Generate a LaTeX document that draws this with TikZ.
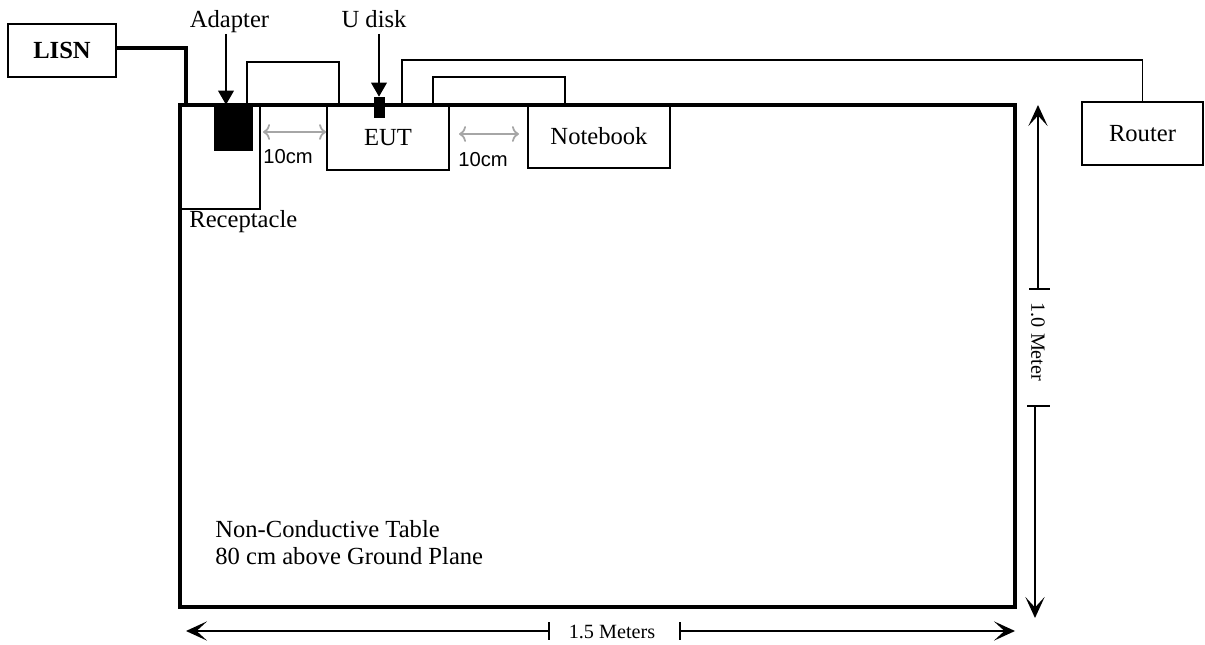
\documentclass[tikz,border=0pt]{standalone}
\usepackage{fontspec}
\setmainfont{Liberation Serif}
\setsansfont{Liberation Sans}
\usepackage{tikz}
\usetikzlibrary{arrows.meta,positioning}

\tikzset{
	box/.style={draw,line width=1pt,inner sep=0pt,align=center},
	blk/.style={draw,fill=black,inner sep=0pt},
	cable/.style={line width=0.8pt},
	powercable/.style={line width=1.9pt},
	pointer/.style={line width=0.8pt,-{Triangle[length=8pt,width=9pt]}},
	gap/.style={gray!70,line width=1pt,{To[length=4pt,width=9pt]}-{To[length=4pt,width=9pt]}},
	dimarrow/.style={line width=0.9pt,-{Stealth[length=12pt,width=11pt,inset=6pt]}},
	tick/.style={line width=0.9pt},
	label/.style={inner sep=0pt,font=\fontsize{14}{14.5}\selectfont},
	cmtext/.style={inner sep=0pt,font=\sffamily\fontsize{11.5}{12}\selectfont}
}

\begin{document}
\begin{tikzpicture}[x=0.02cm,y=-0.02cm,font=\fontsize{14}{14.5}\selectfont]
	\useasboundingbox (0,0) rectangle (1205,645);

	% table
	\node[draw,line width=2.2pt,minimum width=16.7cm,minimum height=10.04cm] (table) at (597.5,356) {};

	% equipment
	\node[box,font=\fontsize{14}{14.5}\selectfont\bfseries,minimum width=2.16cm,minimum height=1.06cm] (lisn) at (62,50.5) {LISN};
	\node[box,minimum width=1.6cm,minimum height=2.08cm] (recept) at (220,157) {};
	\node[blk,minimum width=0.76cm,minimum height=0.9cm] (adapter) at (233,127.5) {};
	\node[box,minimum width=2.44cm,minimum height=1.3cm] (eut) at (388,137.5) {EUT};
	\node[blk,minimum width=0.2cm,minimum height=0.4cm] (udisk) at (379,107) {};
	\node[box,minimum width=2.84cm,minimum height=1.26cm] (notebook) at (599,136.5) {Notebook};
	\node[box,minimum width=2.42cm,minimum height=1.26cm] (router) at (1142.5,133.5) {Router};

	% labels
	\node[label,anchor=base] (adaptertxt) at (229.5,28) {Adapter};
	\node[label,anchor=base] (udisktxt) at (374,28) {U disk};
	\node[label,anchor=base west] (recepttxt) at (189,228) {Receptacle};
	\node[label,anchor=base west] (tabletxt1) at (215,538) {Non-Conductive Table};
	\node[label,anchor=base west] (tabletxt2) at (215,564) {80 cm above Ground Plane};

	\draw[pointer] (226,34) -- (adapter.north -| 226,0);
	\draw[pointer] (379,34) -- (udisk.north);

	% cables
	\coordinate (pwr) at (186,105);
	\draw[powercable] (lisn.east |- 0,48) -| (pwr);
	\draw[cable] (247,105) |- (339,62) -- (339,105);
	\draw[cable] (402,105) |- (router.north |- 0,60) -- (router.north);
	\draw[cable] (433,105) |- (565,77) -- (565,105);

	% 10cm spacing
	\draw[gap] (263,132) -- (eut.west |- 0,132);
	\node[cmtext] (gap1) at (288,157) {10cm};
	\draw[gap] (459,134) -- (519,134);
	\node[cmtext] (gap2) at (483,160) {10cm};

	% dimensions
	\coordinate (vtop) at (1038,105);
	\coordinate (vbot) at (1035,618);
	\draw[dimarrow] (1038,289) -- (vtop);
	\draw[tick] (1029,289) -- (1050,289);
	\draw[tick] (1027,406) -- (1050,406);
	\draw[dimarrow] (1035,406) -- (vbot);
	\node[rotate=-90,inner sep=0pt,font=\fontsize{11.5}{12}\selectfont] (vtxt) at (1038,342) {1.0 Meter};

	\coordinate (hleft) at (186,631);
	\coordinate (hright) at (1015,631);
	\draw[dimarrow] (549,631) -- (hleft);
	\draw[tick] (549,622) -- (549,640);
	\draw[tick] (680,622) -- (680,640);
	\draw[dimarrow] (680,631) -- (hright);
	\node[inner sep=0pt,font=\fontsize{11.5}{12}\selectfont] (htxt) at (612,632) {1.5 Meters};
\end{tikzpicture}
\end{document}
